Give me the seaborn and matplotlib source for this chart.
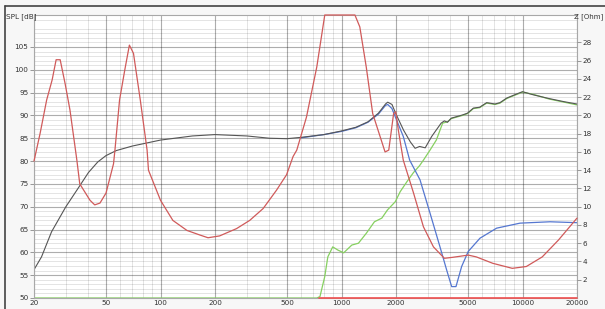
import numpy as np
import pandas as pd
import matplotlib
matplotlib.use("Agg")
import matplotlib.pyplot as plt
from matplotlib.lines import Line2D
from matplotlib.ticker import FixedLocator, FixedFormatter, NullFormatter
import seaborn as sns

# --- datos ---
# SPL total (gris oscuro) [dB]
f_total = [20, 22, 25, 30, 35, 40, 45, 50, 57, 70, 100, 150, 200, 300, 400, 500,
           600, 800, 1000, 1200, 1400, 1600, 1750, 1800, 1900, 2000, 2200, 2400,
           2550, 2700, 2900, 3150, 3550, 3700, 3850, 4040, 4660, 4970, 5350, 5800,
           6340, 7050, 7510, 8180, 9290, 10000, 11500, 14000, 17000, 20000]
spl_total = [56.2, 59, 64.5, 70, 74, 77.5, 79.8, 81.2, 82.3, 83.3, 84.6, 85.5, 85.8,
             85.5, 85.0, 84.9, 85.2, 85.8, 86.6, 87.4, 88.6, 90.5, 92.5, 92.9, 92.4,
             90.3, 86.8, 84.2, 82.8, 83.2, 82.9, 85.4, 88.3, 88.8, 88.5, 89.4, 90.1,
             90.5, 91.6, 91.8, 92.8, 92.5, 92.8, 93.8, 94.7, 95.2, 94.5, 93.7, 93.0, 92.5]

# SPL grave (azul) [dB]
f_woofer = [600, 800, 1000, 1200, 1400, 1600, 1750, 1800, 1900, 2000, 2194, 2380,
            2714, 3083, 3500, 3812, 4060, 4290, 4610, 5014, 5820, 7190, 9690,
            14190, 20000]
spl_woofer = [85.1, 85.8, 86.5, 87.3, 88.5, 90.3, 92.2, 92.4, 91.5, 89.3, 85.4, 80.2,
              75.9, 68.6, 61.2, 56.1, 52.5, 52.5, 56.9, 60.2, 63.1, 65.3, 66.4,
              66.7, 66.5]

# SPL agudo (verde) [dB]
f_tweeter = [20, 730, 760, 808, 840, 894, 955, 1028, 1140, 1240, 1372, 1520, 1670,
             1795, 1982, 2110, 2300, 2500, 2700, 2835, 3083, 3340, 3620, 3850, 4040,
             4660, 4970, 5350, 5800, 6340, 7050, 7510, 8180, 9290, 10000, 11500,
             14000, 17000, 20000]
spl_tweeter = [50, 50, 50.3, 54.7, 59, 61.2, 60.5, 59.9, 61.6, 62, 64.2, 66.7, 67.5,
               69.3, 71.1, 73.3, 75.5, 77.5, 79, 80.2, 82.4, 84.6, 88.3, 88.6, 89.3,
               90.0, 90.4, 91.5, 91.7, 92.7, 92.4, 92.7, 93.7, 94.6, 95.1, 94.6,
               93.6, 92.9, 92.3]

# Impedancia (rojo) [Ohm]
f_imp = [20, 21.6, 23.5, 25.2, 26.5, 27.9, 29.7, 31.6, 34.5, 35.8, 40.8, 43.3, 46.3,
         50, 55, 56, 59.4, 63.5, 67.3, 70.9, 77.3, 84.3, 85.8, 100, 117, 140, 165,
         183, 212, 263, 311, 369, 437, 497, 540, 566, 640, 730, 808, 1186, 1262,
         1370, 1487, 1670, 1740, 1824, 1940, 1994, 2060, 2194, 2500, 2835, 3220,
         3700, 4090, 5014, 5560, 6850, 8780, 10500, 12850, 15800, 20000]
z_imp = [15, 18, 21.7, 23.9, 26.1, 26.1, 23.5, 20.6, 15.1, 12.5, 10.7, 10.2, 10.4,
         11.5, 14.7, 16.2, 21.7, 25, 27.7, 26.8, 21.7, 16.2, 14, 10.7, 8.5, 7.4, 6.9,
         6.6, 6.8, 7.6, 8.5, 9.8, 11.8, 13.5, 15.5, 16.2, 19.8, 25.3, 31, 31, 29.7,
         25.3, 20.2, 17.1, 16, 16.2, 20.2, 20.4, 18.4, 15.1, 11.5, 7.8, 5.6,
         4.35, 4.45, 4.7, 4.5, 3.8, 3.25, 3.45, 4.5, 6.35, 8.75]

# linea roja del fondo
f_base = [750, 20000]
z_base = [0, 0]

x_major = [20, 50, 100, 200, 500, 1000, 2000, 5000, 10000, 20000]
x_labels = ["20", "50", "100", "200", "500", "1000", "2000", "5000", "10000", "20000"]
spl_ticks = list(range(50, 110, 5))
z_ticks = list(range(2, 30, 2))

sns.set_style("white")
plt.rcParams["font.family"] = ["DejaVu Sans"]

fig = plt.figure(figsize=(6.05, 3.09), dpi=100, facecolor="#f7f7f7")
ax = fig.add_axes([34 / 605, 1 - 298 / 309, (577 - 34) / 605, (298 - 15) / 309])
ax.set_facecolor("white")
ax.set_xscale("log")
az = ax.twinx()
az.patch.set_visible(False)

sns.lineplot(x=f_tweeter, y=spl_tweeter, ax=ax, color="#86d060", lw=0.9, sort=False)
sns.lineplot(x=f_woofer, y=spl_woofer, ax=ax, color="#5577d0", lw=0.9, sort=False)
sns.lineplot(x=f_total, y=spl_total, ax=ax, color="#555555", lw=0.8, sort=False)
sns.lineplot(x=f_imp, y=z_imp, ax=az, color="#d05a5a", lw=0.9, sort=False)
sns.lineplot(x=f_base, y=z_base, ax=az, color="#f05050", lw=1.2, sort=False)
for ln in az.lines:
    ln.set_clip_on(False)

ax.set_xlim(20, 20000)
ax.set_ylim(50, 112)
az.set_ylim(0, 31)

# rejilla (con transparencia para que los cruces no se aclaren)
x_minor = [m * d for d in (10, 100, 1000, 10000) for m in range(2, 10)
           if 20 <= m * d <= 20000 and m * d not in x_major]
ax.xaxis.set_major_locator(FixedLocator(x_major))
ax.xaxis.set_major_formatter(FixedFormatter(x_labels))
ax.xaxis.set_minor_locator(FixedLocator(x_minor))
ax.xaxis.set_minor_formatter(NullFormatter())
ax.yaxis.set_major_locator(FixedLocator(spl_ticks))
ax.yaxis.set_minor_locator(FixedLocator([v for v in range(50, 113) if v % 5]))
ax.grid(which="major", color="black", alpha=0.32, lw=0.8)
ax.grid(which="minor", color="black", alpha=0.11, lw=0.7)
ax.set_axisbelow(True)
ax.tick_params(axis="x", which="both", length=0, pad=1.5, labelsize=5.2, colors="#333333")
ax.tick_params(axis="y", which="major", length=3, width=0.6, color="#888888",
               pad=1, labelsize=5.2, labelcolor="#333333")
ax.tick_params(axis="y", which="minor", length=0)
for s in ax.spines.values():
    s.set_color("#a8a8a8")
    s.set_linewidth(0.8)
ax.set_xlabel("")
ax.set_ylabel("")

az.yaxis.set_major_locator(FixedLocator(z_ticks))
az.tick_params(axis="y", length=3, width=0.6, color="#888888", pad=1,
               labelsize=5.2, labelcolor="#333333")
az.tick_params(axis="x", which="both", bottom=False, top=False,
               labelbottom=False, labeltop=False)
az.set_xlabel("")
az.set_ylabel("")
for s in az.spines.values():
    s.set_visible(False)

fig.text(6 / 605, 1 - 17 / 309, "SPL [dB]", fontsize=5.2, color="#333333",
         ha="left", va="center")
fig.text(603 / 605, 1 - 17 / 309, "Z [Ohm]", fontsize=5, color="#333333",
         ha="right", va="center")

# marco de ventana
fig.add_artist(Line2D([5 / 605, 1], [1 - 6 / 309, 1 - 6 / 309], color="#444444", lw=1.2))
fig.add_artist(Line2D([5 / 605, 5 / 605], [0, 1 - 6 / 309], color="#444444", lw=1.2))

fig.savefig("out.png", dpi=100, facecolor=fig.get_facecolor())
